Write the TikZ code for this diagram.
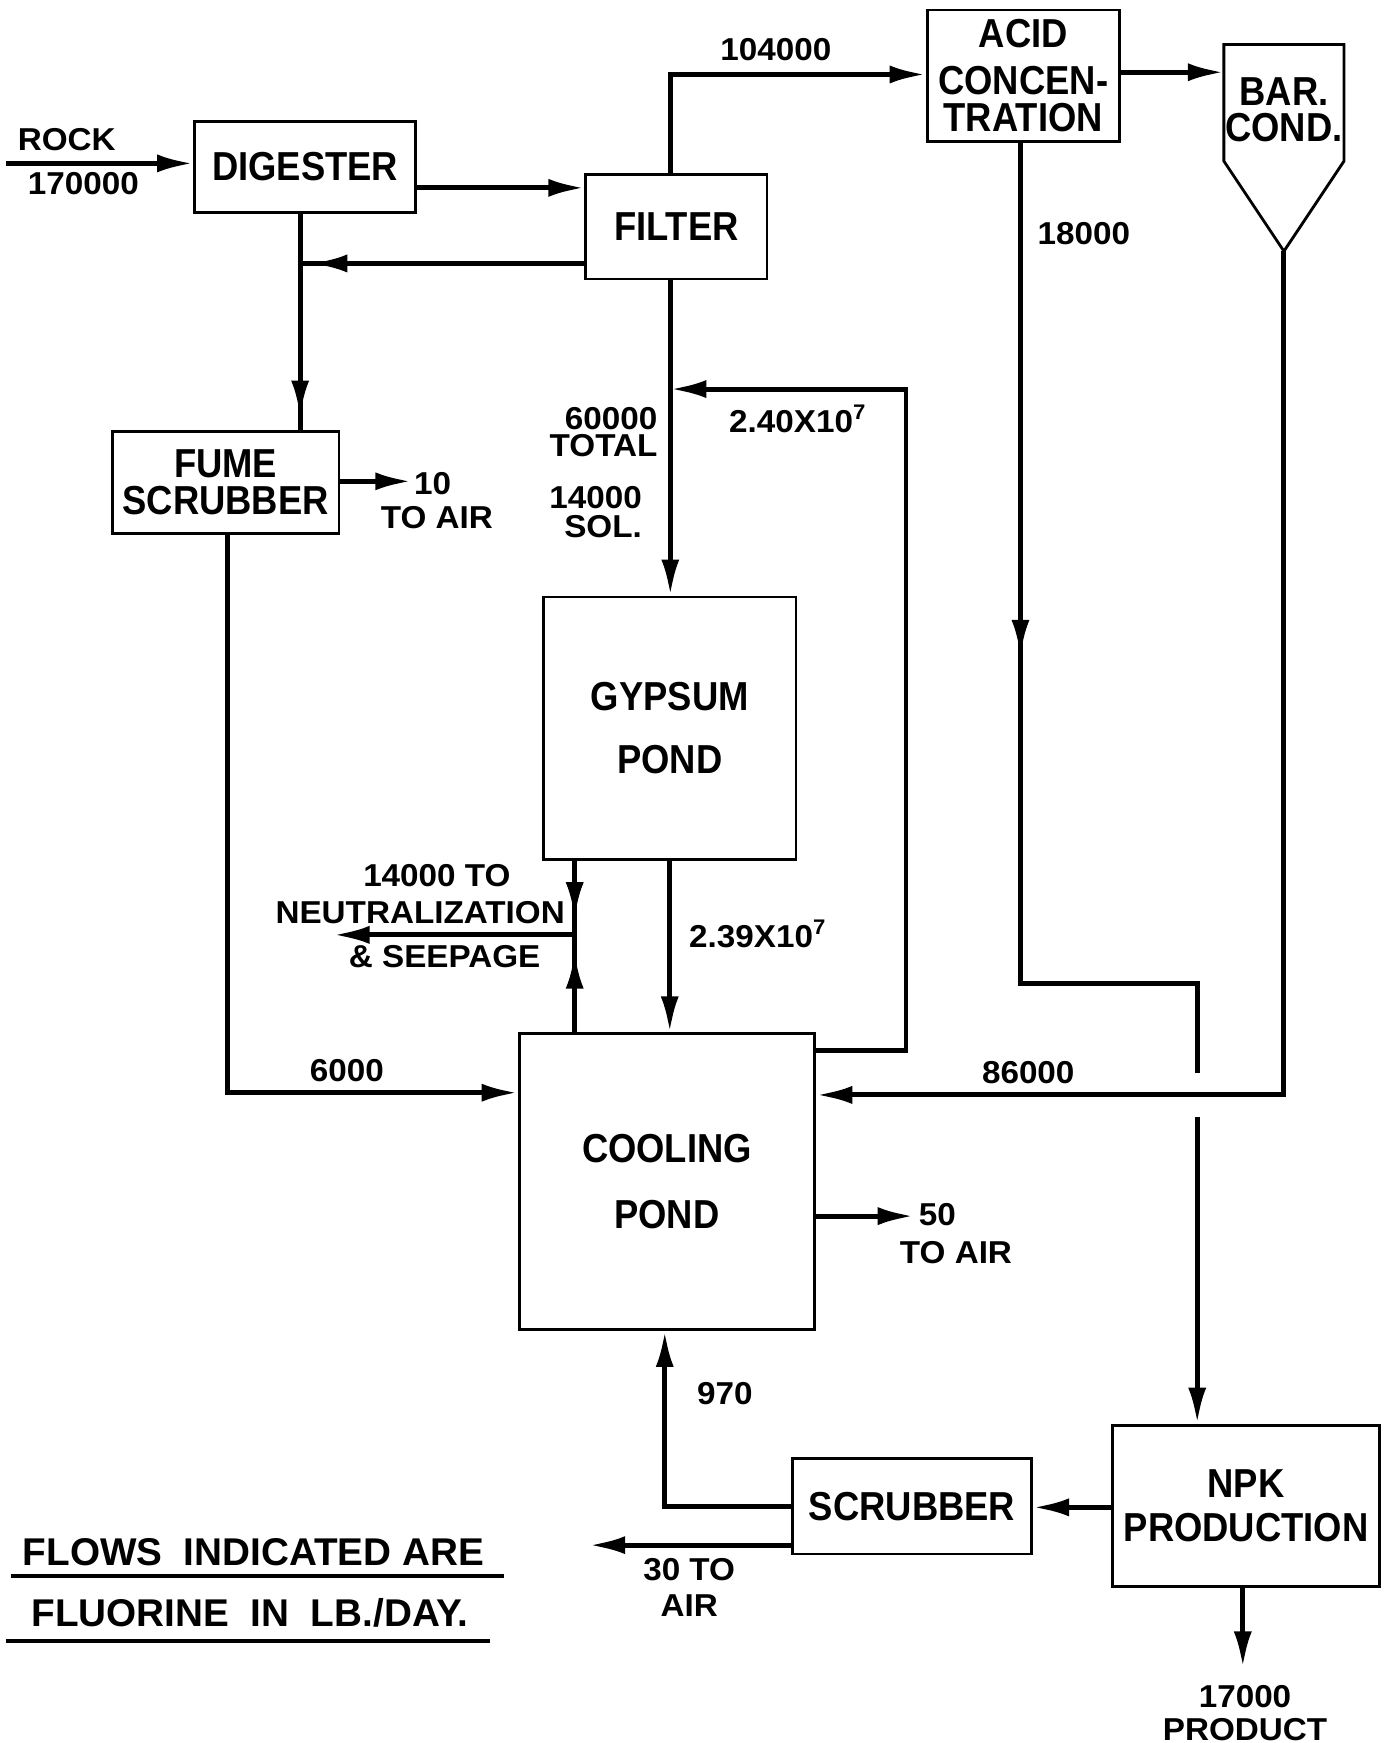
\documentclass[tikz,border=0pt]{standalone}
\usepackage{fontspec}
\setmainfont{Liberation Sans}
\newfontfamily\boxfont{Liberation Sans}[FakeStretch=0.9]
\newfontfamily\lblfont{Liberation Sans}[FakeStretch=1.05]
\usetikzlibrary{arrows.meta,positioning,calc}
\newdimen\pxu
\pxu=0.011116cm

\begin{document}
\begin{tikzpicture}[
  x=0.011116cm, y=-0.011116cm,
  unit/.style 2 args={
    rectangle,
    draw=black,
    line width=0.8pt,
    fill=white,
    align=center,
    inner sep=0pt,
    font=\boxfont\fontsize{11.5}{12}\bfseries,
    minimum width=#1\pxu,
    minimum height=#2\pxu
  },
  flow/.style={-{Latex[length=3.6mm,width=1.8mm]}, line width=1.4pt},
  pipe/.style={line width=1.4pt},
  lbl/.style={font=\lblfont\fontsize{9}{9.5}\bfseries, inner sep=0pt, align=center},
  note/.style={font=\fontsize{11}{12}\bfseries, inner sep=0pt}
]
\fill[white] (0,0) rectangle (1245,1568);
\useasboundingbox (0,0) rectangle (1245,1568);

% units
\node[unit={199}{82}] (digester) at (274.5,150) {DIGESTER};
\node[unit={163}{94}] (filter) at (608.5,204) {FILTER};
\node[unit={173}{118}] (acidconc) at (920.5,68) {ACID\\[1.3pt]CONCEN-\\[-1.6pt]TRATION};
\node[unit={204}{92}] (fume) at (203,434) {FUME\\[-1.6pt]SCRUBBER};
\node[unit={227}{236}] (gypsum) at (602.5,655) {GYPSUM\\[6pt]POND};
\node[unit={266}{266}] (cooling) at (600,1063) {COOLING\\[7pt]POND};
\node[unit={215}{86}] (scrubber) at (820.5,1355) {SCRUBBER};
\node[unit={240}{145}] (npk) at (1121,1354.5) {NPK\\[0.6pt]PRODUCTION};

% barometric condenser
\draw[line width=0.8pt] (1101,40) -- (1209,40) -- (1209,145) -- (1155,226) -- (1101,145) -- cycle;
\node[font=\boxfont\fontsize{11.5}{12}\bfseries, align=center, inner sep=0pt] (barcond) at (1155,99) {BAR.\\[-1.9pt]COND.};

% helper points
\coordinate (rockin) at (5,147);
\coordinate (lvdf) at (0,169);
\coordinate (jback) at (270,237);
\coordinate (fumeout) at (370,433);
\coordinate (fumecorner) at (205,983);
\coordinate (filtercorner) at (603,67);
\coordinate (barin) at (1101,65);
\coordinate (bartip) at (1155,226);
\coordinate (barcorner) at (1155,985);
\coordinate (acidarrow) at (918,590);
\coordinate (acidturn) at (918,885);
\coordinate (hopabove) at (1077,965);
\coordinate (hopbelow) at (1077,1005);
\coordinate (recyclejoin) at (603,350);
\coordinate (recyclehigh) at (815,350);
\coordinate (recyclelow) at (815,945);
\coordinate (seepjoin) at (517,841);
\coordinate (seepout) at (300,841);
\coordinate (coolout) at (822,1094);
\coordinate (lvnpk) at (0,1356);
\coordinate (scrubcorner) at (598,1355);
\coordinate (scrubout) at (530,1390);
\coordinate (productout) at (1118,1500);

% flows
\draw[flow] (rockin) -- (rockin -| digester.west);
\draw[flow] (digester.east |- lvdf) -- (filter.west |- lvdf);
\draw[pipe] (filter.west |- jback) -- (jback);
\draw[flow, shorten >=10\pxu] (filter.west |- jback) -- (jback);
\draw[pipe] (digester.south -| jback) -- (fume.north -| jback);
\draw[flow, shorten >=12\pxu] (digester.south -| jback) -- (fume.north -| jback);
\draw[flow] (fume.east |- fumeout) -- (fumeout);
\draw[flow] (fume.south -| fumecorner) |- (cooling.west |- fumecorner);
\draw[flow] (filter.north -| filtercorner) |- (acidconc.west |- filtercorner);
\draw[flow] (acidconc.east |- barin) -- (barin);
\draw[flow] (bartip) |- (cooling.east |- barcorner);
\draw[pipe] (acidconc.south -| acidarrow) -- (acidturn) -| (hopabove);
\draw[flow] (acidconc.south -| acidarrow) -- (acidarrow);
\draw[flow] (hopbelow) -- (npk.north -| hopbelow);
\draw[flow] (filter.south -| recyclejoin) -- (gypsum.north -| recyclejoin);
\draw[flow] (cooling.east |- recyclelow) -- (recyclelow) -- (recyclehigh) -- (recyclejoin);
\draw[flow] (gypsum.south) -- (cooling.north -| gypsum.south);
\draw[pipe] (gypsum.south -| seepjoin) -- (cooling.north -| seepjoin);
\draw[flow, shorten >=15\pxu] (gypsum.south -| seepjoin) -- (seepjoin);
\draw[flow, shorten >=16\pxu] (cooling.north -| seepjoin) -- (seepjoin);
\draw[flow] (seepjoin) -- (seepout);
\draw[flow] (cooling.east |- coolout) -- (coolout);
\draw[flow] (npk.west |- lvnpk) -- (scrubber.east |- lvnpk);
\draw[flow] (scrubber.west |- scrubcorner) -| (cooling.south -| scrubcorner);
\draw[flow] (scrubber.west |- scrubout) -- (scrubout);
\draw[flow] (npk.south -| productout) -- (productout);

% flow labels
\node[lbl] (lblrock) at (60,126) {ROCK};
\node[lbl] (lblrockamt) at (75,165) {170000};
\node[lbl] (lblacidin) at (698,45) {104000};
\node[lbl] (lblacidout) at (975,210) {18000};
\node[lbl, anchor=west] (lblfume) at (372,435) {10};
\node[lbl] (lblfumeair) at (393,466) {TO AIR};
\node[lbl, align=right, anchor=east] (lbltotal) at (592,389) {60000\\[-1.9pt]TOTAL};
\node[lbl, align=right, anchor=east] (lblsol) at (578,461) {14000\\[-1.3pt]SOL.};
\node[lbl] (lblrecycle) at (718,377) {2.40X10\textsuperscript{7}};
\node[lbl] (lblgyp) at (682,840) {2.39X10\textsuperscript{7}};
\node[lbl] (lblseep1) at (393,788) {14000 TO};
\node[lbl] (lblseep2) at (378,821) {NEUTRALIZATION};
\node[lbl] (lblseep3) at (400,861) {\& SEEPAGE};
\node[lbl] (lbl6000) at (312,963) {6000};
\node[lbl] (lbl86000) at (925,965) {86000};
\node[lbl, anchor=west] (lblcool50) at (826,1093) {50};
\node[lbl] (lblcoolair) at (860,1127) {TO AIR};
\node[lbl] (lbl970) at (652,1254) {970};
\node[lbl] (lblscrubair) at (620,1428) {30 TO\\[0.6pt]AIR};
\node[lbl] (lblproduct) at (1120,1541) {17000\\[0pt]PRODUCT};

% note
\node[note] (note1) at (228,1396) {FLOWS\ \ INDICATED ARE};
\node[note] (note2) at (225,1451) {FLUORINE\ \ IN\ \ LB./DAY.};
\draw[line width=1.1pt] (10,1418) -- (453,1418);
\draw[line width=1.1pt] (5,1476) -- (441,1476);
\end{tikzpicture}
\end{document}
